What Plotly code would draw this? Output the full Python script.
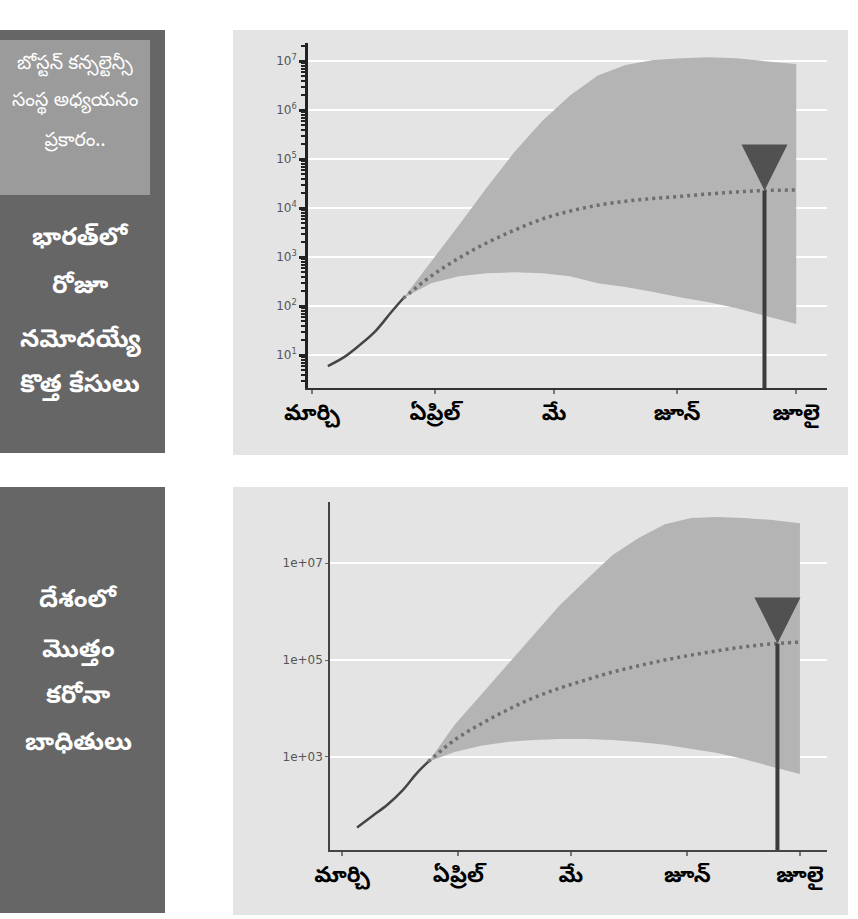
import plotly.graph_objects as go

W, H = 858, 919

# ---------------- data ----------------
month_ticks = ["2020-03-01", "2020-04-01", "2020-05-01", "2020-06-01", "2020-07-01"]
month_labels = ["మార్చి", "ఏప్రిల్", "మే", "జూన్", "జూలై"]

obs_dates = ["2020-03-05", "2020-03-09", "2020-03-13", "2020-03-17", "2020-03-21", "2020-03-24"]
proj_dates = ["2020-03-24", "2020-03-31", "2020-04-07", "2020-04-14", "2020-04-21", "2020-04-28",
              "2020-05-05", "2020-05-12", "2020-05-19", "2020-05-26", "2020-06-02", "2020-06-09",
              "2020-06-16", "2020-06-23", "2020-07-01"]

# daily new cases (top chart)
daily_obs = [6, 9, 16, 31, 76, 145]
daily_upper = [145, 800, 4500, 26000, 140000, 600000, 2.0e6, 5.1e6, 8.3e6, 1.05e7, 1.15e7, 1.2e7,
               1.15e7, 1.0e7, 8.7e6]
daily_lower = [145, 295, 410, 470, 490, 470, 410, 295, 245, 195, 150, 120, 91, 63, 43]
daily_median = [145, 410, 955, 1950, 3550, 6000, 8700, 11500, 13800, 15800, 17400, 19500,
                21400, 22900, 23400]
daily_mark_date = "2020-06-23"
daily_mark_value = 22900

# cumulative cases (bottom chart)
total_obs = [35, 60, 102, 200, 470, 800]
total_upper = [800, 4600, 19000, 79000, 330000, 1.35e6, 4.5e6, 1.45e7, 3.3e7, 6.3e7, 8.5e7, 8.9e7,
               8.5e7, 7.8e7, 6.6e7]
total_lower = [800, 1260, 1700, 2040, 2240, 2340, 2340, 2240, 2040, 1780, 1450, 1200, 910, 645, 447]
total_median = [800, 2240, 4800, 9300, 16600, 26300, 38900, 56200, 75900, 100000, 126000, 155000,
                186000, 214000, 234000]
total_mark_date = "2020-06-25"
total_mark_value = 220000

top_ytickvals = [10, 100, 1000, 1e4, 1e5, 1e6, 1e7]
top_yticktext = ["10<sup>1</sup>", "10<sup>2</sup>", "10<sup>3</sup>", "10<sup>4</sup>",
                 "10<sup>5</sup>", "10<sup>6</sup>", "10<sup>7</sup>"]
bot_ytickvals = [1e3, 1e5, 1e7]
bot_yticktext = ["1e+03", "1e+05", "1e+07"]

panel_texts_top = ["బోస్టన్ కన్సల్టెన్సీ", "సంస్థ అధ్యయనం", "ప్రకారం.."]
panel_texts_mid = ["భారత్‌లో", "రోజూ", "నమోదయ్యే", "కొత్త కేసులు"]
panel_texts_bot = ["దేశంలో", "మొత్తం", "కరోనా", "బాధితులు"]

# ---------------- style ----------------
BAND = "#b4b4b4"
PANEL = "#e4e4e4"
MED = "#6e6e6e"
OBS = "#454545"
TRI = "#515151"
STEM = "#3c3c3c"
TEL = "Noto Sans Telugu, Noto Sans, DejaVu Sans, sans-serif"


def px(x, y):
    return x / W, 1 - y / H


fig = go.Figure()


def add_chart(xa, ya, obs, upper, lower, median, mdate, mval, ymin_log):
    xs = "x" if xa == 1 else f"x{xa}"
    ys = "y" if ya == 1 else f"y{ya}"
    fig.add_trace(go.Scatter(x=proj_dates + proj_dates[::-1], y=upper + lower[::-1],
                             fill="toself", fillcolor=BAND, line=dict(width=0),
                             mode="lines", hoverinfo="skip", xaxis=xs, yaxis=ys))
    fig.add_trace(go.Scatter(x=obs_dates, y=obs, mode="lines",
                             line=dict(color=OBS, width=2.5, shape="spline"), xaxis=xs, yaxis=ys))
    fig.add_trace(go.Scatter(x=proj_dates, y=median, mode="lines",
                             line=dict(color=MED, width=3.5, dash="3px,4px", shape="spline"),
                             xaxis=xs, yaxis=ys))
    fig.add_trace(go.Scatter(x=[mdate, mdate], y=[10 ** ymin_log, mval], mode="lines",
                             line=dict(color=STEM, width=4), xaxis=xs, yaxis=ys))
    fig.add_trace(go.Scatter(x=[mdate], y=[mval], mode="markers",
                             marker=dict(symbol="arrow-down", size=46, color=TRI,
                                         line=dict(width=0)),
                             xaxis=xs, yaxis=ys))


TOP_YR = [0.33, 7.37]
BOT_YR = [1.08, 8.26]
add_chart(1, 1, daily_obs, daily_upper, daily_lower, daily_median,
          daily_mark_date, daily_mark_value, TOP_YR[0])
add_chart(2, 2, total_obs, total_upper, total_lower, total_median,
          total_mark_date, total_mark_value, BOT_YR[0])

shapes = []


def rect(x0, y0, x1, y1, color):
    a, b = px(x0, y0)
    c, d = px(x1, y1)
    shapes.append(dict(type="rect", xref="paper", yref="paper", x0=a, y0=d, x1=c, y1=b,
                       fillcolor=color, line=dict(width=0), layer="below"))


# chart panels
rect(233, 30, 848, 455, PANEL)
rect(233, 487, 848, 915, PANEL)
# left text panels
rect(0, 30, 165, 453, "#666666")
rect(0, 40, 150, 195, "#9b9b9b")
rect(0, 487, 165, 913, "#666666")

annotations = []


def label(text, x, y, size, weight="bold"):
    a, b = px(x, y)
    annotations.append(dict(text=text, x=a, y=b, xref="paper", yref="paper",
                            showarrow=False, xanchor="center", yanchor="middle",
                            font=dict(family=TEL, size=size, color="white", weight=weight)))


for t, yy in zip(panel_texts_top, [65, 102, 142]):
    label(t, 75, yy, 19, "normal")
for t, yy in zip(panel_texts_mid, [240, 288, 342, 387]):
    label(t, 80, yy, 25)
for t, yy in zip(panel_texts_bot, [602, 652, 698, 745]):
    label(t, 78, yy, 25)

xd_top = [px(308, 0)[0], px(827, 0)[0]]
yd_top = [px(0, 388)[1], px(0, 43)[1]]
xd_bot = [px(330, 0)[0], px(827, 0)[0]]
yd_bot = [px(0, 850)[1], px(0, 502)[1]]

xaxis_common = dict(type="date", tickmode="array", tickvals=month_ticks, ticktext=month_labels,
                    ticks="outside", ticklen=4, tickwidth=1.5, tickcolor="#777",
                    showgrid=False, zeroline=False, showline=True, automargin=False,
                    tickfont=dict(family=TEL, size=22, color="black", weight="bold"))

minor_vals = [m * 10 ** e for e in range(0, 8) for m in range(2, 10)]

fig.update_layout(
    width=W, height=H, margin=dict(l=0, r=0, t=0, b=0, pad=0, autoexpand=False),
    paper_bgcolor="white", plot_bgcolor="rgba(0,0,0,0)",
    showlegend=False, shapes=shapes, annotations=annotations,
    xaxis=dict(domain=xd_top, anchor="y", range=["2020-02-29", "2020-07-08 18:00"],
               linecolor="#333", linewidth=2, **xaxis_common),
    yaxis=dict(domain=yd_top, anchor="x", type="log", range=TOP_YR, automargin=False,
               tickmode="array", tickvals=top_ytickvals, ticktext=top_yticktext,
               ticks="outside", ticklen=6, tickwidth=3, tickcolor="#222",
               showline=True, linecolor="#222", linewidth=2.5,
               showgrid=True, gridcolor="white", gridwidth=2, zeroline=False,
               minor=dict(tickmode="array", tickvals=minor_vals, ticks="outside",
                          ticklen=4, tickwidth=1.5, tickcolor="#222", showgrid=False),
               tickfont=dict(family="DejaVu Sans", size=12, color="#555")),
    xaxis2=dict(domain=xd_bot, anchor="y2", range=["2020-02-26 19:00", "2020-07-08 05:00"],
                linecolor="#444", linewidth=1.5, **xaxis_common),
    yaxis2=dict(domain=yd_bot, anchor="x2", type="log", range=BOT_YR, automargin=False,
                tickmode="array", tickvals=bot_ytickvals, ticktext=bot_yticktext,
                ticks="outside", ticklen=3, tickwidth=1, tickcolor="#666",
                showline=True, linecolor="#444", linewidth=1.5,
                showgrid=True, gridcolor="white", gridwidth=2, zeroline=False,
                tickfont=dict(family="DejaVu Sans", size=12, color="#555")),
)

fig.write_html("out.html", config={"displayModeBar": False},
               post_script="document.body.style.margin='0';document.body.style.overflow='hidden';")
